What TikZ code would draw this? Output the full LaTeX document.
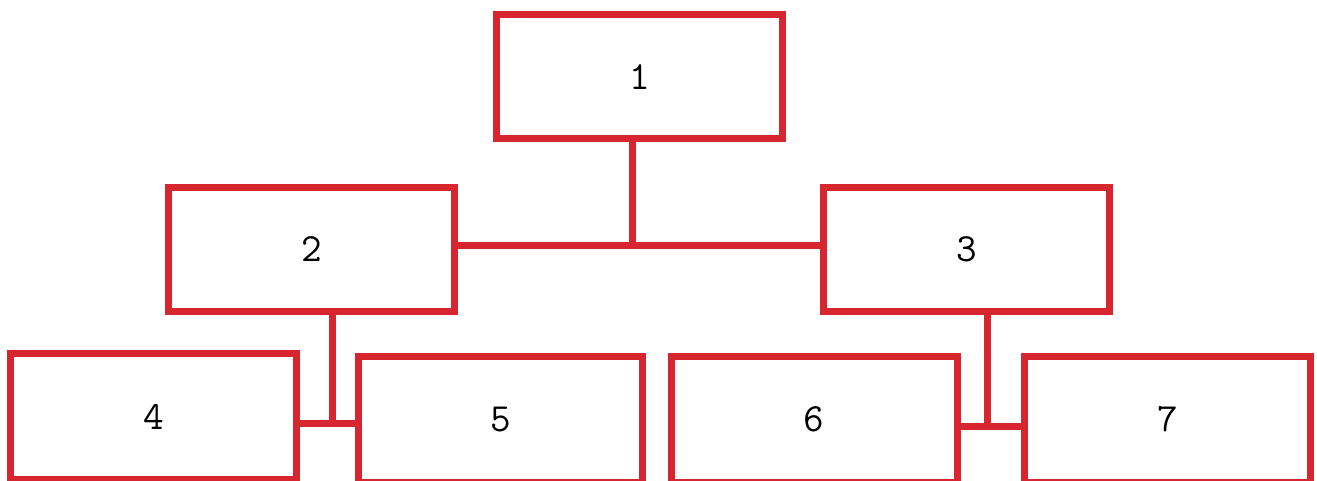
\documentclass[tikz,border=0pt]{standalone}
\usepackage{xcolor}
\usepackage{tikz}
\usetikzlibrary{calc}
\definecolor{boxred}{HTML}{D7262F}
\tikzset{
  unit/.style={draw=boxred,line width=7pt,minimum width=286pt,minimum height=124pt,
    inner sep=0pt,fill=white,font=\ttfamily\fontsize{40}{40}\selectfont},
  lowunit/.style={unit,minimum height=126pt},
  link/.style={draw=boxred,line width=7pt}
}

\begin{document}
\begin{tikzpicture}[x=1pt,y=-1pt]
 \useasboundingbox (0,0) rectangle (1317,481);
 % top level
 \node[unit] (n1) at (639.5,77) {1};
 % second level
 \node[unit] (n2) at (311.5,249.5) {2};
 \node[unit] (n3) at (966.5,249.5) {3};
 % third level (cut off at the bottom)
 \node[lowunit] (n4) at (153.5,416.5) {4};
 \node[lowunit,minimum width=284pt] (n5) at (500.5,419.5) {5};
 \node[lowunit] (n6) at (814,419.5) {6};
 \node[lowunit] (n7) at (1167.5,419.5) {7};
 % junctions
 \coordinate (j1) at (632,245);
 \coordinate (j2) at (332,423);
 \coordinate (j3) at (987,426);
 \draw[link] (n1.south -| j1) -- (j1);
 \draw[link] (n2.east |- j1) -- (n3.west |- j1);
 \draw[link] (n2.south -| j2) -- (j2);
 \draw[link] (n4.east |- j2) -- (n5.west |- j2);
 \draw[link] (n3.south -| j3) -- (j3);
 \draw[link] (n6.east |- j3) -- (n7.west |- j3);
\end{tikzpicture}
\end{document}
